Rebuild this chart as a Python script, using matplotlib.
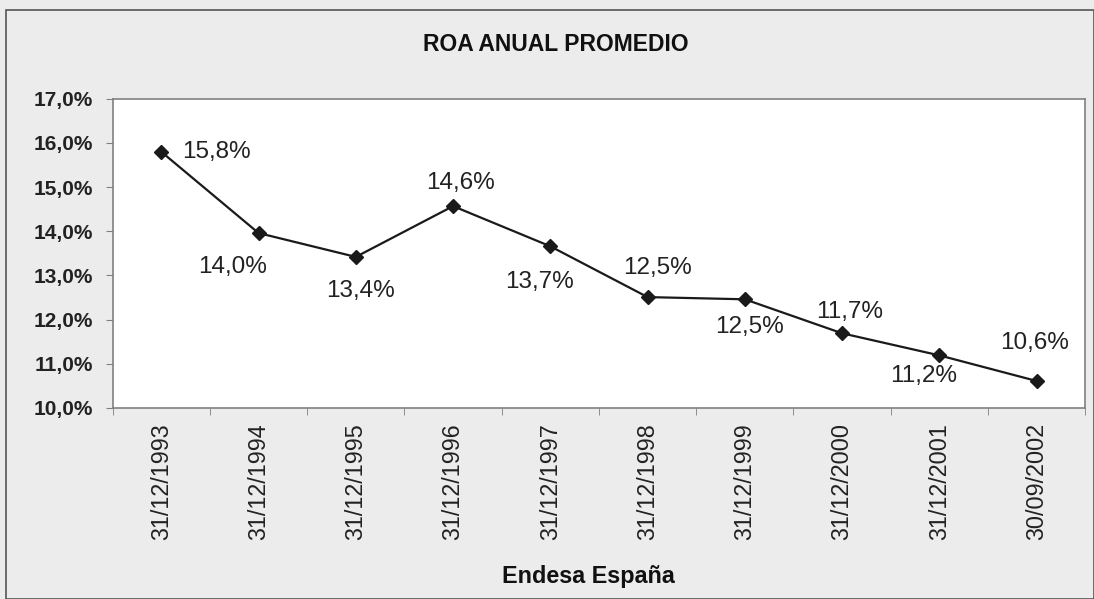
import matplotlib.pyplot as plt
from matplotlib.patches import Rectangle
from matplotlib.ticker import FuncFormatter, FixedLocator

plt.rcParams['font.family'] = ['Liberation Sans', 'DejaVu Sans']

# datos
fechas = ["31/12/1993", "31/12/1994", "31/12/1995", "31/12/1996", "31/12/1997",
          "31/12/1998", "31/12/1999", "31/12/2000", "31/12/2001", "30/09/2002"]
roa = [15.8, 13.96, 13.42, 14.57, 13.66, 12.51, 12.46, 11.69, 11.19, 10.61]
# desplazamiento de cada etiqueta (px) respecto al punto
offsets = [(55, 0), (-26, -34), (5, -34), (7, 23), (-11, -36),
           (10, 29), (5, -28), (8, 21), (-16, -21), (-2, 38)]

fig = plt.figure(figsize=(10.94, 5.99), dpi=100, facecolor="#ececec")
fig.patches.append(Rectangle((6 / 1094, 0), 1 - 6 / 1094, 1 - 10 / 599,
                             transform=fig.transFigure, fill=False,
                             edgecolor="#555555", linewidth=1.2))

ax = fig.add_axes([0.103, 0.319, 0.889, 0.516])
ax.set_facecolor("white")

x = list(range(len(fechas)))
ax.plot(x, roa, color="#1a1a1a", linewidth=1.6, marker="D", markersize=7,
        markerfacecolor="#1a1a1a", markeredgecolor="#1a1a1a")

for xi, v, (dx, dy) in zip(x, roa, offsets):
    ax.annotate(f"{v:.1f}%".replace(".", ","), (xi, v), xytext=(dx * 0.72, dy * 0.72),
                textcoords="offset points", ha="center", va="center",
                fontsize=17.5, color="#222222")

ax.set_xlim(-0.5, len(fechas) - 0.5)
ax.set_ylim(10, 17)
ax.set_yticks(range(10, 18))
ax.yaxis.set_major_formatter(FuncFormatter(lambda v, p: f"{v:.1f}%".replace(".", ",")))
for lab in ax.get_yticklabels():
    lab.set_fontweight("bold")
    lab.set_fontsize(15)
    lab.set_color("#222222")

ax.set_xticks(x)
ax.set_xticklabels(fechas, rotation=90, fontsize=16.8, color="#222222")
ax.tick_params(axis="x", length=0, pad=11)
ax.xaxis.set_minor_locator(FixedLocator([i - 0.5 for i in range(len(fechas) + 1)]))
ax.tick_params(axis="x", which="minor", length=5, color="#808080")
ax.tick_params(axis="y", length=5, color="#808080", pad=9)

for s in ax.spines.values():
    s.set_color("#808080")
    s.set_linewidth(1.2)

fig.text(0.508, 0.925, "ROA ANUAL PROMEDIO", ha="center", va="center",
         fontsize=16.5, fontweight="bold", color="#111111")
fig.text(0.538, 0.037, "Endesa España", ha="center", va="center",
         fontsize=16.8, fontweight="bold", color="#111111")

fig.savefig("out.png", dpi=100, facecolor=fig.get_facecolor())
